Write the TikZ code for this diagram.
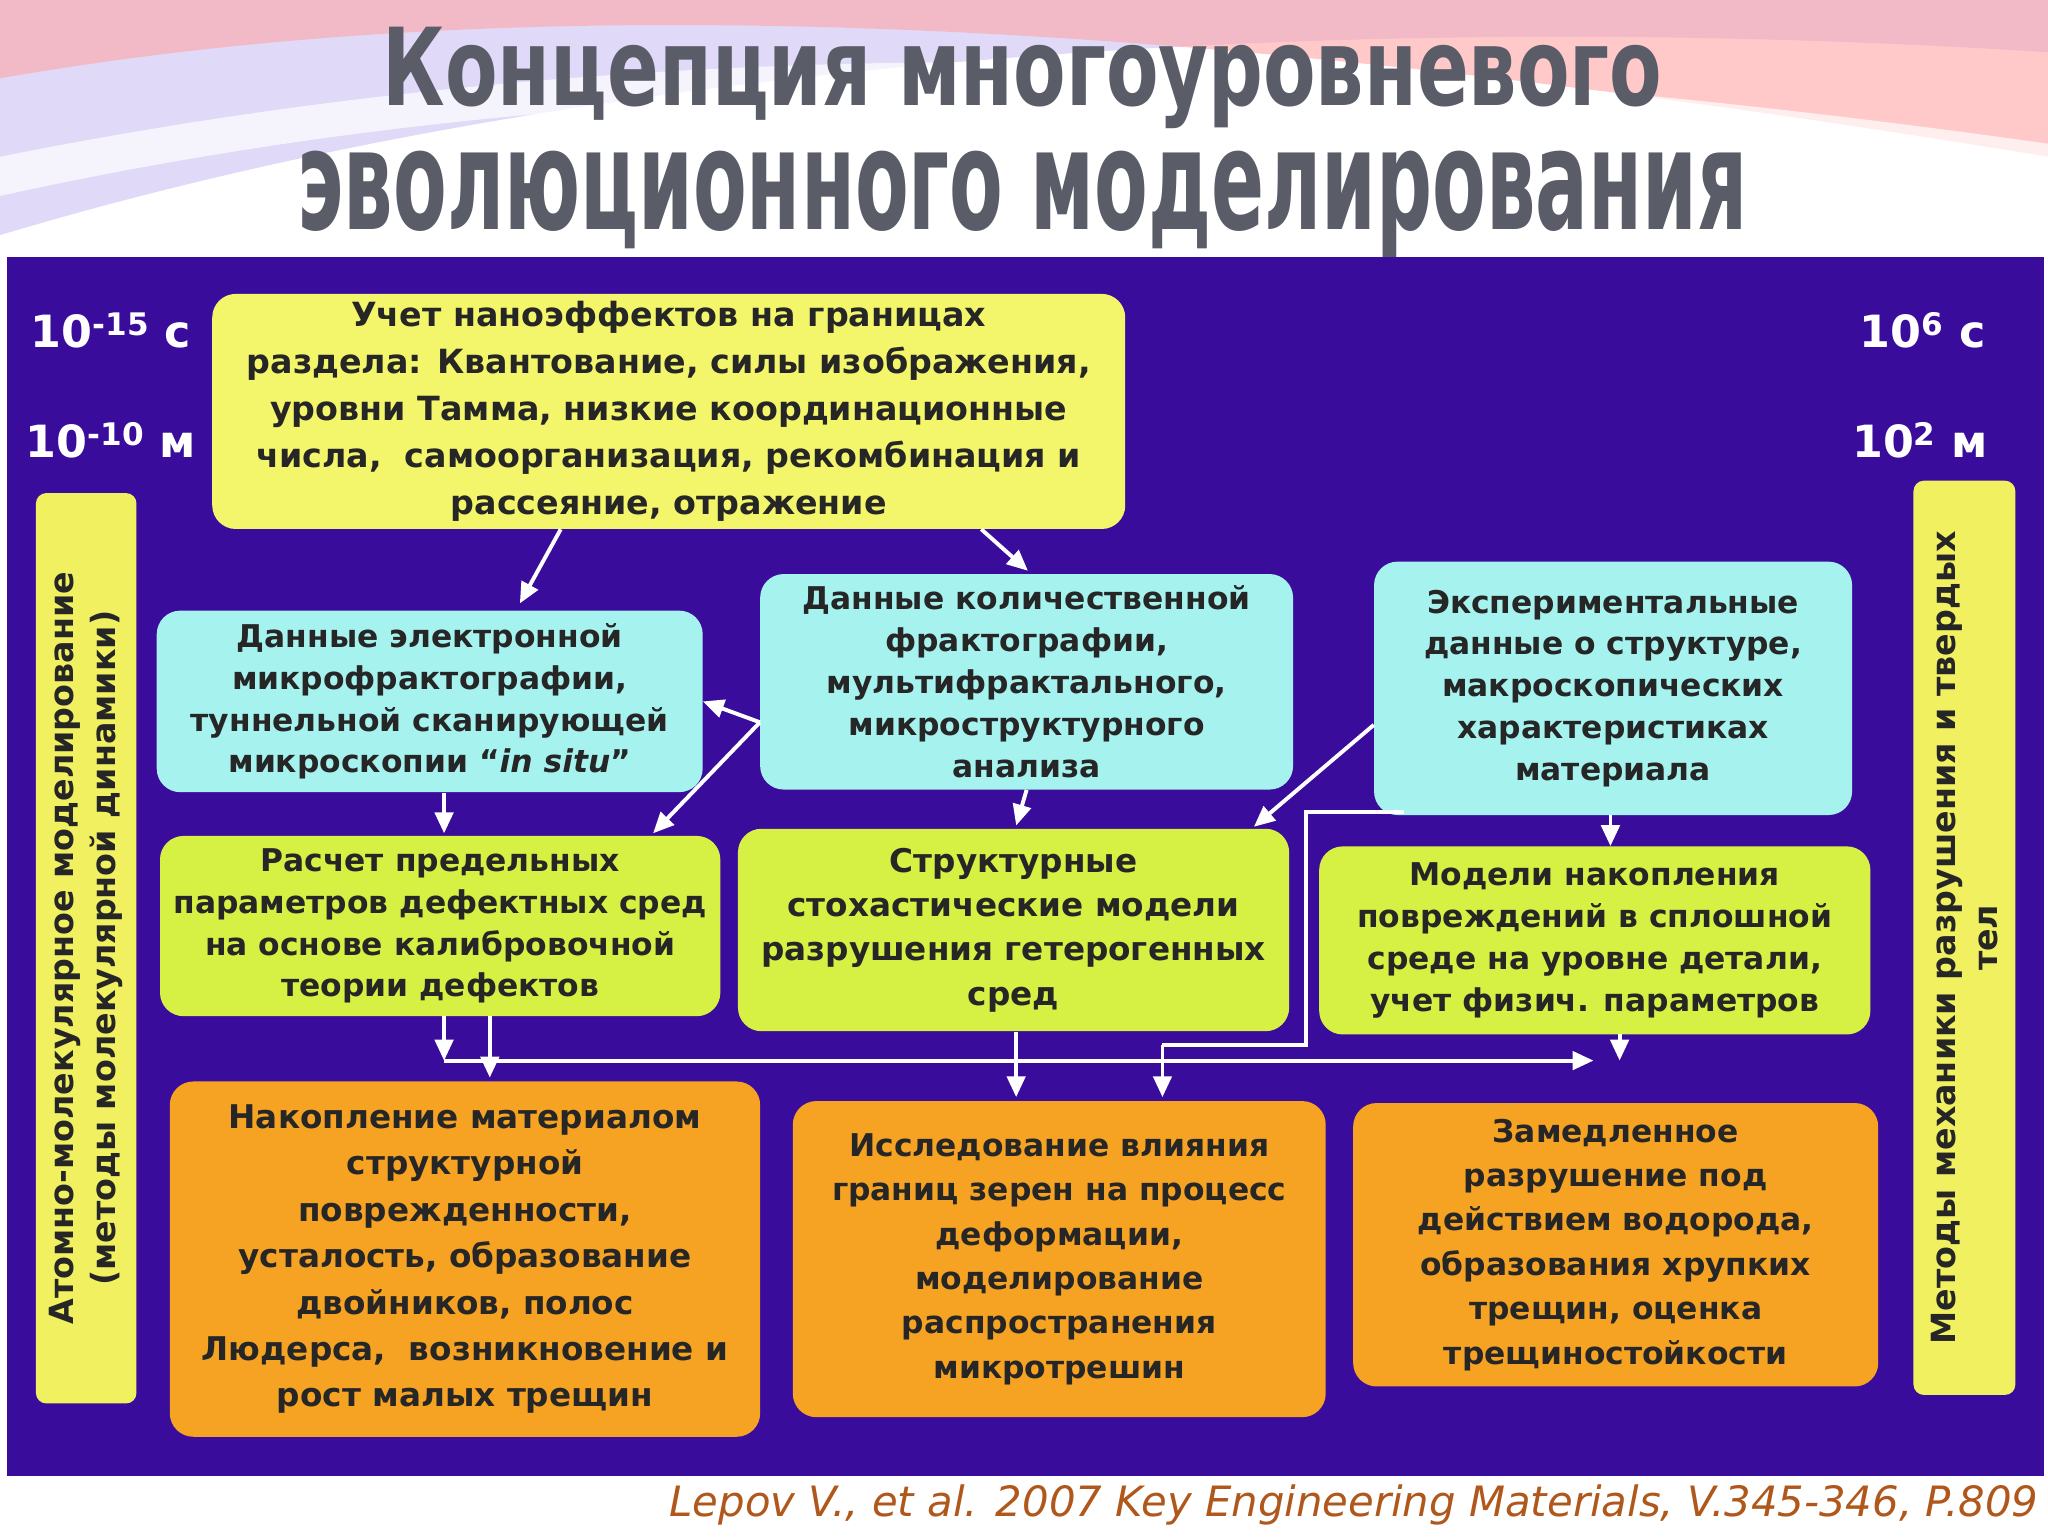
\documentclass[tikz,border=0pt]{standalone}
\usepackage{fontspec}
\setmainfont{DejaVu Sans}
\newfontfamily\titlefont{DejaVu Sans Condensed}
\usetikzlibrary{arrows.meta,calc}
\definecolor{panel}{HTML}{3A0C9C}
\definecolor{ybox}{HTML}{F3F56A}
\definecolor{cbox}{HTML}{A6F2EE}
\definecolor{gbox}{HTML}{D6F043}
\definecolor{obox}{HTML}{F6A323}
\definecolor{bar}{HTML}{F0F060}
\definecolor{ttl}{HTML}{5A5C68}
\definecolor{cite}{HTML}{B0581C}
\tikzset{
 bx/.style={rounded corners=18pt,inner sep=0pt,align=center,font=\fontsize{24}{32}\selectfont\bfseries,text=black!85},
 arr/.style={draw=white,line width=3pt,-{Triangle[length=16pt,width=14pt]}},
 ln/.style={draw=white,line width=3pt},
 lbl/.style={text=white,font=\fontsize{34}{40}\selectfont\bfseries}
}
\begin{document}
\begin{tikzpicture}[x=1pt,y=-1pt]
\useasboundingbox (0,0) rectangle (1568,1176);
\fill[white] (0,0) rectangle (1568,1176);
% top swoosh
\fill[red!20!blue!15] (0,0) -- (1568,0) -- (1568,40) .. controls (1100,10) and (500,30) .. (0,180) -- cycle;
\fill[red!35!white,opacity=0.6] (0,60) .. controls (400,-10) and (900,10) .. (1568,120) -- (1568,0) -- (0,0) -- cycle;
\fill[white,opacity=0.7] (0,150) .. controls (500,40) and (1000,60) .. (1568,130) -- (1568,110) .. controls (1000,30) and (500,20) .. (0,120) -- cycle;
% title
\node[inner sep=0pt] (t1) at (783,60) {\titlefont\bfseries\color{ttl}\resizebox{980pt}{60pt}{Концепция многоуровневого}};
\node[inner sep=0pt] (t2) at (783,157) {\titlefont\bfseries\color{ttl}\resizebox{1110pt}{60pt}{эволюционного моделирования}};
% panel
\fill[panel] (5,197) rectangle (1565,1130);
\node[lbl] (l1) at (85,253) {10\textsuperscript{-15} с};
\node[lbl] (l2) at (85,337) {10\textsuperscript{-10} м};
\node[lbl] (r1) at (1472,253) {10\textsuperscript{6} с};
\node[lbl] (r2) at (1470,337) {10\textsuperscript{2} м};
% bars
\node[bx,fill=bar,rounded corners=8pt,rotate=90,minimum width=697pt,minimum height=77pt,font=\fontsize{25.5}{32}\selectfont\bfseries] (lb) at (66,726) {Атомно-молекулярное моделирование\\(методы молекулярной динамики)};
\node[bx,fill=bar,rounded corners=8pt,rotate=90,minimum width=700pt,minimum height=78pt,font=\fontsize{25.5}{32}\selectfont\bfseries] (rb) at (1504,718) {Методы механики разрушения и твердых\\тел};
% boxes
\node[bx,fill=ybox,minimum width=699pt,minimum height=180pt,font=\fontsize{25.5}{36}\selectfont\bfseries] (top) at (512,315) {Учет наноэффектов на границах\\раздела: Квантование, силы изображения,\\уровни Тамма, низкие координационные\\числа,\ \ самоорганизация, рекомбинация и\\рассеяние, отражение};
\node[bx,fill=cbox,minimum width=418pt,minimum height=139pt] (A) at (329,537) {Данные электронной\\микрофрактографии,\\туннельной сканирующей\\микроскопии “\textit{in situ}”};
\node[bx,fill=cbox,minimum width=408pt,minimum height=165pt] (B) at (786,522) {Данные количественной\\фрактографии,\\мультифрактального,\\микроструктурного\\анализа};
\node[bx,fill=cbox,minimum width=366pt,minimum height=194pt] (C) at (1235,527) {Экспериментальные\\данные о структуре,\\макроскопических\\характеристиках\\материала};
\node[bx,fill=gbox,minimum width=429pt,minimum height=138pt] (D) at (337,709) {Расчет предельных\\параметров дефектных сред\\на основе калибровочной\\теории дефектов};
\node[bx,fill=gbox,minimum width=422pt,minimum height=155pt,font=\fontsize{25}{34}\selectfont\bfseries] (E) at (776,712) {Структурные\\стохастические модели\\разрушения гетерогенных\\сред};
\node[bx,fill=gbox,minimum width=422pt,minimum height=144pt] (F) at (1221,720) {Модели накопления\\повреждений в сплошной\\среде на уровне детали,\\учет физич. параметров};
\node[bx,fill=obox,minimum width=452pt,minimum height=272pt,font=\fontsize{25}{35.5}\selectfont\bfseries] (G) at (356,964) {Накопление материалом\\структурной\\поврежденности,\\усталость, образование\\двойников, полос\\Людерса,\ \ возникновение и\\рост малых трещин};
\node[bx,fill=obox,minimum width=408pt,minimum height=242pt,font=\fontsize{24}{34}\selectfont\bfseries] (H) at (811,964) {Исследование влияния\\границ зерен на процесс\\деформации,\\моделирование\\распространения\\микротрешин};
\node[bx,fill=obox,minimum width=402pt,minimum height=217pt,font=\fontsize{24}{34}\selectfont\bfseries] (I) at (1237,953) {Замедленное\\разрушение под\\действием водорода,\\образования хрупких\\трещин, оценка\\трещиностойкости};
% arrows
\coordinate (tA) at ($(top.south west)+(267,0)$);
\coordinate (tB) at ($(top.south west)+(589,0)$);
\draw[arr] (tA) -- (398,462);
\draw[arr] (tB) -- (787,437);
\coordinate (bl) at ($(B.west)+(0,31)$);
\draw[arr] (bl) -- (A.east);
\draw[arr] (bl) -- (500,638);
\draw[arr] (340,607) -- (340,638);
\draw[arr] (B.south) -- (778,632);
\coordinate (cl) at ($(C.west)+(0,28)$);
\draw[arr] (cl) -- (960,633);
\draw[arr] (1233,624) -- (F.north -| 1233,0);
\draw[ln] (1075,622) -- (1000,622) -- (1000,800) -- (890,800);
\draw[arr] (890,800) -- (890,840);
\draw[arr] (340,778) -- (340,812);
\draw[arr] (375,778) -- (375,825);
\draw[arr] (778,790) -- (778,840);
\draw[arr] (1240,792) -- (1240,812);
\draw[arr] (340,812) -- (1220,812);
% citation
\node[anchor=east,text=cite,font=\fontsize{32}{38}\selectfont\itshape] (cit) at (1564,1152) {Lepov V., et al. 2007 Key Engineering Materials, V.345-346, P.809};
\end{tikzpicture}
\end{document}
